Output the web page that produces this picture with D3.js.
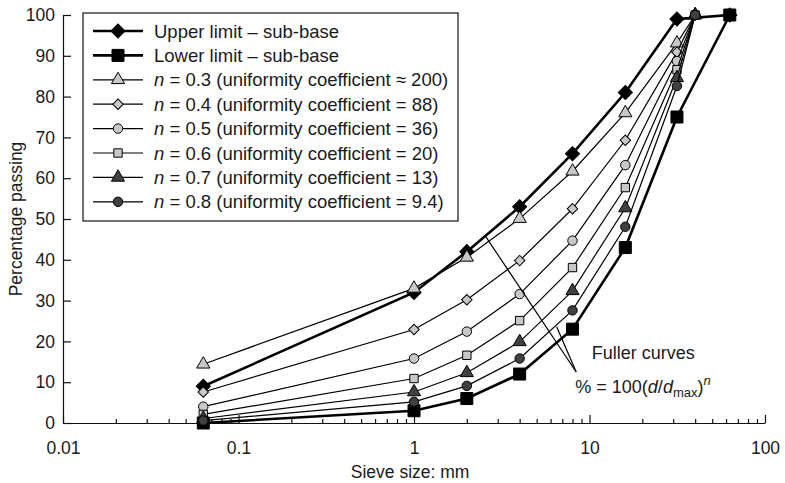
<!DOCTYPE html>
<html>
<head>
<meta charset="utf-8">
<script src="https://cdn.jsdelivr.net/npm/d3@7"></script>
<style>
  body { margin: 0; background: #fff; }
  text { font-family: "Liberation Sans", Arial, Helvetica, sans-serif; fill: #1a1a1a; }
</style>
</head>
<body>
<svg width="785" height="483"></svg>
<script>
// sieve sizes (mm)
var fullerSieve = [0.063, 1, 2, 4, 8, 16, 31.5, 40];
var limitSieve = [0.063, 1, 2, 4, 8, 16, 31.5, 63];

// grading envelope for sub-base
var upperLimit = [9, 32, 42, 53, 66, 81, 99, 100];
var lowerLimit = [0, 3, 6, 12, 23, 43, 75, 100];

// Fuller curves, percentage passing
var n03 = [14.4, 33.0, 40.6, 50.1, 61.7, 76.0, 93.1, 100];
var n04 = [7.6, 22.9, 30.2, 39.8, 52.5, 69.3, 90.9, 100];
var n05 = [4.0, 15.8, 22.4, 31.6, 44.7, 63.2, 88.7, 100];
var n06 = [2.1, 10.9, 16.6, 25.1, 38.1, 57.7, 86.6, 100];
var n07 = [1.1, 7.6, 12.3, 19.9, 32.4, 52.7, 84.6, 100];
var n08 = [0.6, 5.2, 9.1, 15.8, 27.6, 48.1, 82.6, 100];

var nValues = ["0.3", "0.4", "0.5", "0.6", "0.7", "0.8"];
var uniformity = ["≈ 200", "= 88", "= 36", "= 20", "= 13", "= 9.4"];

var xTicks = [0.01, 0.1, 1, 10, 100];
var yTicks = [0, 10, 20, 30, 40, 50, 60, 70, 80, 90, 100];

var light = "#c8c8c8", dark = "#404040";

var series = [
  { name: "Upper limit – sub-base", xs: limitSieve, ys: upperLimit, shape: "diamond", size: 100, fill: "#000", width: 2.6 },
  { name: "Lower limit – sub-base", xs: limitSieve, ys: lowerLimit, shape: "square", size: 144, fill: "#000", width: 2.6 },
  { n: 0, xs: fullerSieve, ys: n03, shape: "triangle", size: 75, fill: light, width: 1.2 },
  { n: 1, xs: fullerSieve, ys: n04, shape: "diamond", size: 55, fill: light, width: 1.2 },
  { n: 2, xs: fullerSieve, ys: n05, shape: "circle", size: 70, fill: light, width: 1.2 },
  { n: 3, xs: fullerSieve, ys: n06, shape: "square", size: 70, fill: light, width: 1.2 },
  { n: 4, xs: fullerSieve, ys: n07, shape: "triangle", size: 75, fill: dark, width: 1.2 },
  { n: 5, xs: fullerSieve, ys: n08, shape: "circle", size: 70, fill: dark, width: 1.2 }
];

var svg = d3.select("svg");
var margin = { top: 15, right: 20, bottom: 60, left: 63 };
var width = +svg.attr("width") - margin.left - margin.right;
var height = +svg.attr("height") - margin.top - margin.bottom;

var x = d3.scaleLog().domain([0.01, 100]).range([0, width]);
var y = d3.scaleLinear().domain([0, 100]).range([height, 0]);

var g = svg.append("g")
  .attr("transform", "translate(" + margin.left + "," + margin.top + ")");

function symbolFor(s) {
  var type = { diamond: d3.symbolSquare, square: d3.symbolSquare, triangle: d3.symbolTriangle, circle: d3.symbolCircle }[s.shape];
  return d3.symbol().type(type).size(s.size)();
}
function rot(s) { return s.shape === "diamond" ? " rotate(45)" : ""; }

// minor x ticks
var minor = [];
[0.01, 0.1, 1, 10].forEach(function(d) {
  for (var k = 2; k <= 9; k++) minor.push(d * k);
});

g.append("g")
  .attr("class", "axis axis--minor")
  .attr("transform", "translate(0," + height + ")")
  .call(d3.axisBottom(x).tickValues(minor).tickSize(-4).tickSizeOuter(0).tickFormat(""))
  .call(function(a) { a.select(".domain").remove(); });

g.append("g")
  .attr("class", "axis axis--x")
  .attr("transform", "translate(0," + height + ")")
  .call(d3.axisBottom(x).tickValues(xTicks).tickSize(-8).tickSizeOuter(0).tickPadding(19)
    .tickFormat(function(d) { return String(d); }));

g.append("g")
  .attr("class", "axis axis--y")
  .call(d3.axisLeft(y).tickValues(yTicks).tickSize(-8).tickSizeOuter(0).tickPadding(8));

svg.selectAll(".axis path, .axis line").attr("stroke", "#111").attr("stroke-width", 1.2);
svg.selectAll(".axis text").attr("font-size", 17.5).attr("fill", "#1a1a1a")
  .style("font-family", "'Liberation Sans', Arial, sans-serif");

// axis titles
svg.append("text")
  .attr("x", margin.left + x(0.95))
  .attr("y", 478)
  .attr("text-anchor", "middle")
  .attr("font-size", 17.5)
  .text("Sieve size: mm");

svg.append("text")
  .attr("transform", "translate(22," + (margin.top + height / 2) + ") rotate(-90)")
  .attr("text-anchor", "middle")
  .attr("font-size", 17.5)
  .text("Percentage passing");

// lines and markers
var line = d3.line()
  .x(function(d) { return x(d[0]); })
  .y(function(d) { return y(d[1]); });

series.forEach(function(s) {
  var pts = s.xs.map(function(v, i) { return [v, s.ys[i]]; });
  g.append("path")
    .datum(pts)
    .attr("fill", "none")
    .attr("stroke", "#000")
    .attr("stroke-width", s.width)
    .attr("d", line);
  g.append("g").selectAll("path")
    .data(pts)
    .enter().append("path")
      .attr("d", symbolFor(s))
      .attr("transform", function(d) { return "translate(" + x(d[0]) + "," + y(d[1]) + ")" + rot(s); })
      .attr("fill", s.fill)
      .attr("stroke", "#000")
      .attr("stroke-width", 1);
});

// legend
var legend = svg.append("g").attr("transform", "translate(83,13)");
legend.append("rect")
  .attr("width", 375).attr("height", 208)
  .attr("fill", "#fff").attr("stroke", "#111").attr("stroke-width", 1.2);

var row = legend.selectAll(".row")
  .data(series)
  .enter().append("g")
    .attr("class", "row")
    .attr("transform", function(d, i) { return "translate(0," + (18 + i * 24.4) + ")"; });

row.append("line")
  .attr("x1", 10).attr("x2", 60)
  .attr("stroke", "#000")
  .attr("stroke-width", function(d) { return d.width; });

row.append("path")
  .attr("d", symbolFor)
  .attr("transform", function(d) { return "translate(35,0)" + rot(d); })
  .attr("fill", function(d) { return d.fill; })
  .attr("stroke", "#000");

var label = row.append("text")
  .attr("x", 71)
  .attr("y", 6.5)
  .attr("font-size", 18.5);

label.each(function(d) {
  var t = d3.select(this);
  if (d.name) { t.text(d.name); return; }
  t.append("tspan").attr("font-style", "italic").text("n");
  t.append("tspan").text(" = " + nValues[d.n] + " (uniformity coefficient " + uniformity[d.n] + ")");
});

// Fuller curves annotation
var tip = [8.4, 12.5];
[[2.57, 45.6], [6.5, 23.6]].forEach(function(p) {
  g.append("line")
    .attr("x1", x(p[0])).attr("y1", y(p[1]))
    .attr("x2", x(tip[0])).attr("y2", y(tip[1]))
    .attr("stroke", "#000").attr("stroke-width", 1.2);
});

g.append("text")
  .attr("x", x(10.3)).attr("y", y(15.6))
  .attr("font-size", 18)
  .text("Fuller curves");

var f = g.append("text")
  .attr("x", x(8.3)).attr("y", y(7.3))
  .attr("font-size", 18);
f.append("tspan").text("% = 100(");
f.append("tspan").attr("font-style", "italic").text("d");
f.append("tspan").text("/");
f.append("tspan").attr("font-style", "italic").text("d");
f.append("tspan").attr("font-size", 13).attr("dy", 4).text("max");
f.append("tspan").attr("dy", -4).text(")");
f.append("tspan").attr("font-style", "italic").attr("font-size", 13).attr("dy", -8).text("n");
</script>
</body>
</html>
